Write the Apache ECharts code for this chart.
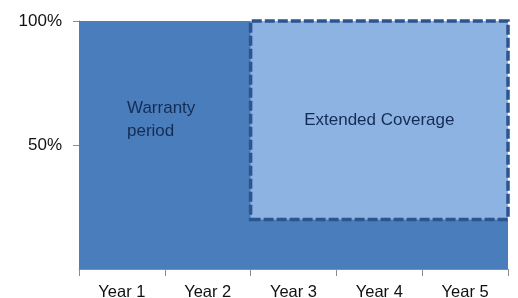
<!DOCTYPE html>
<html>
<head>
<meta charset="utf-8">
<script src="https://cdn.jsdelivr.net/npm/echarts@6/dist/echarts.min.js"></script>
<style>
  html, body { margin: 0; padding: 0; background: #fff; }
  #chart { width: 518px; height: 298px; }
</style>
</head>
<body>
<div id="chart"></div>
<script>
const categories = ["Year 1", "Year 2", "Year 3", "Year 4", "Year 5"]
const coverageValues = [100, 100, 100, 100, 100]
const yTicks = [50, 100]

// spans drawn as boxes: first / last year, lower and upper percent
const warrantySpan = { from: "Year 1", to: "Year 2", low: 20, high: 100, label: "Warranty\nperiod" }
const extendedSpan = { from: "Year 3", to: "Year 5", low: 20, high: 100, label: "Extended Coverage" }

const chart = echarts.init(document.getElementById("chart"))

function spanArea(span) {
  return [
    { xAxis: categories.indexOf(span.from), yAxis: span.low, name: span.label },
    { xAxis: categories.indexOf(span.to) + 1, yAxis: span.high },
  ]
}

const option = {
  animation: false,
  grid: { left: 79, right: 10, top: 21, bottom: 29, outerBoundsMode: "none" },
  xAxis: [
    {
      type: "category",
      data: categories,
      axisLine: { show: true, lineStyle: { color: "#8c8c8c", width: 1 } },
      axisTick: { show: true, length: 7, lineStyle: { color: "#8c8c8c" } },
      axisLabel: { color: "#111", fontSize: 16.5, fontFamily: "Liberation Sans", margin: 15 },
    },
    { type: "value", min: 0, max: categories.length, show: false },
  ],
  yAxis: {
    type: "value",
    min: 0,
    max: 100,
    axisLine: { show: true, lineStyle: { color: "#8c8c8c", width: 1 } },
    axisTick: { show: true, length: 6, customValues: yTicks, lineStyle: { color: "#8c8c8c" } },
    splitLine: { show: false },
    axisLabel: {
      color: "#111",
      fontSize: 17,
      fontFamily: "Liberation Sans",
      margin: 17,
      customValues: yTicks,
      formatter: (v) => v + "%",
    },
  },
  series: [
    {
      name: "Coverage",
      type: "bar",
      data: coverageValues,
      barWidth: "101%",
      barGap: "-100%",
      itemStyle: { color: "#4a7dbb" },
    },
    {
      name: "Spans",
      type: "line",
      xAxisIndex: 1,
      data: [],
      markArea: {
        silent: true,
        z: 5,
        data: [
          [
            { ...spanArea(warrantySpan)[0], itemStyle: { color: "rgba(0,0,0,0)", borderWidth: 0 },
              label: { position: "insideLeft", distance: 48, align: "left" } },
            spanArea(warrantySpan)[1],
          ],
          [
            { ...spanArea(extendedSpan)[0] },
            spanArea(extendedSpan)[1],
          ],
        ],
        itemStyle: {
          color: "#8db3e2",
          borderColor: "#2c5590",
          borderWidth: 3.5,
          borderType: [10, 3],
        },
        label: {
          show: true,
          position: "inside",
          color: "#142c55",
          fontSize: 17,
          lineHeight: 23,
          fontFamily: "Liberation Sans",
        },
      },
    },
  ],
}

chart.setOption(option)
</script>
</body>
</html>
